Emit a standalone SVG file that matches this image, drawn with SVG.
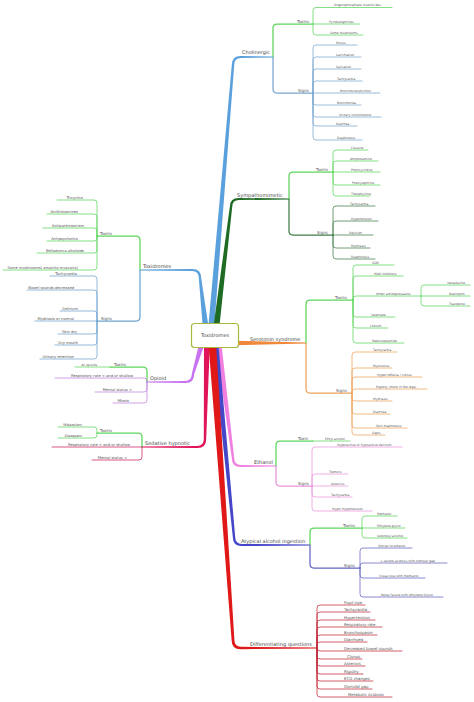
<svg xmlns="http://www.w3.org/2000/svg" width="474" height="702" viewBox="0 0 474 702">
<style>
text{font-family:"DejaVu Sans","Liberation Sans",sans-serif;fill:#555}
.m{font-size:5px;fill:#4a4a4a}
.c{font-size:4px}
.l{font-size:3.1px}
.ll{font-size:3.7px}
.d{font-size:3.9px}
.e{text-anchor:end}
.k path{fill:none;stroke-linecap:round;stroke-linejoin:round}
.w1{stroke-width:1.25}
.w2{stroke-width:0.75}
.g{stroke:#5cd65c}.b{stroke:#7aa6cf}.dg{stroke:#3f7d48}.o{stroke:#eea35c}.p{stroke:#e993dc}.i{stroke:#6464c4}.r{stroke:#c0283a}.lb{stroke:#6fa3d0}.v{stroke:#c080e0}.cr{stroke:#d02060}
</style>
<g id="connectors">
<g id="main-branches">
<path fill="#5aa0dc" d="M209,330 L201.2,278 Q201.2,268.8 192,269 L140,269.4 L140,270.6 L192,271 Q198.8,271.2 198.8,278 L203,330 Z"/>
<path fill="#5aa0dc" d="M208,330 L231.8,65 Q231.8,55.8 241,56 L273,56.4 L273,57.6 L241,58 Q234.2,58.2 234.2,65 L214,330 Z"/>
<path fill="#1e6b24" d="M213,330 L229.8,207 Q229.8,197.8 239,198 L289,198.4 L289,199.6 L239,200 Q232.2,200.2 232.2,207 L219,330 Z"/>
<path fill="#f0883a" d="M236,340.8 L306,342.4 L306,343.6 L236,345.2 Z"/>
<path fill="#f07fe0" d="M215,340 L231.8,458 Q231.8,467.2 241,467 L276,466.6 L276,465.4 L241,465 Q234.2,464.8 234.2,458 L221,340 Z"/>
<path fill="#4646c8" d="M212,340 L232.8,537 Q232.8,546.2 242,546 L310,545.6 L310,544.4 L242,544 Q235.2,543.8 235.2,537 L218,340 Z"/>
<path fill="#c872f0" d="M206,340 L194.2,374 Q194.2,383.2 185,383 L147,382.6 L147,381.4 L185,381 Q191.8,380.8 191.8,374 L200,340 Z"/>
<path fill="#e0145a" d="M210,340 L206.2,439 Q206.2,448.2 197,448 L142,447.6 L142,446.4 L197,446 Q203.8,445.8 203.8,439 L204,340 Z"/>
<path fill="#e01818" d="M208.2,340 L231.6,640 Q231.6,649.4 241,649.2 L316,648.6 L316,647.4 L241,646.8 Q234.4,646.6 234.4,640 L215.8,340 Z"/>
</g>
<g class="k">
<path class="g w1" d="M273,57V28Q273,24 277,24H313"/>
<path class="b w1" d="M273,57V89Q273,93 277,93H313"/>
<path class="g w2" d="M313,24V10.5Q313,7.5 316,7.5H392M313,24H360M313,24V32Q313,35 316,35H363"/>
<path class="b w2" d="M313,93V48Q313,45 316,45H357M313,93V60Q313,57 316,57H361M313,93V72Q313,69 316,69H361M313,93V84Q313,81 316,81H362M313,93H380M313,93V102Q313,105 316,105H361M313,93V114Q313,117 316,117H381M313,93V123Q313,126 316,126H357M313,93V137Q313,140 316,140H362"/>
<path class="g w1" d="M289,199V176Q289,172 293,172H333"/>
<path class="dg w1" d="M289,199V231Q289,235 293,235H333"/>
<path class="g w2" d="M333,172V153Q333,150 336,150H368M333,172V164Q333,161 336,161H378M333,172H380M333,172V182Q333,185 336,185H380M333,172V193Q333,196 336,196H370"/>
<path class="dg w2" d="M333,235V209Q333,206 336,206H375M333,235V224Q333,221 336,221H378M333,235H373M333,235V245Q333,248 336,248H370M333,235V256Q333,259 336,259H375"/>
<path class="g w1" d="M306,343V304Q306,300 310,300H353"/>
<path class="o w1" d="M306,343V389Q306,393 310,393H352"/>
<path class="g w2" d="M353,300V268Q353,265 356,265H394M353,300V279Q353,276 356,276H403M353,300V299Q353,296 356,296H421M353,300V314Q353,317 356,317H395M353,300V325Q353,328 356,328H388M353,300V340Q353,343 356,343H404"/>
<path class="g w2" d="M421,296V288Q421,285 424,285H470M421,296H470M421,296V303Q421,306 424,306H470"/>
<path class="o w2" d="M352,393V355Q352,352 355,352H397M352,393V371Q352,368 355,368H392M352,393V380Q352,377 355,377H422M352,393V392Q352,389 355,389H427M352,393V398Q352,401 355,401H392M352,393V411Q352,414 355,414H390M352,393V425Q352,428 355,428H407M352,393V432Q352,435 355,435H385"/>
<path class="g w1" d="M276,466V445Q276,441 280,441H313"/>
<path class="g w2" d="M313,441H350"/>
<path class="p w1" d="M276,466V482Q276,486 280,486H312"/>
<path class="p w2" d="M312,486V450Q312,447 315,447H402M312,486V477Q312,474 315,474H348M312,486H348M312,486V494Q312,497 315,497H352M312,486V508Q312,511 315,511H372"/>
<path class="g w1" d="M310,545V532Q310,528 314,528H362"/>
<path class="i w1" d="M310,545V564Q310,568 314,568H360"/>
<path class="g w2" d="M362,528V519Q362,516 365,516H397M362,528H405M362,528V535Q362,538 365,538H407"/>
<path class="i w2" d="M360,568V551Q360,548 363,548H412M360,568V566Q360,563 363,563H447M360,568V575Q360,578 363,578H425M360,568V594Q360,597 363,597H443"/>
<path class="r w2" d="M317,648V608Q317,605 320,605H365M317,648V615Q317,612 320,612H370M317,648V623Q317,620 320,620H375M317,648V630Q317,627 320,627H382M317,648V638Q317,635 320,635H377M317,648V645Q317,642 320,642H367M317,648Q317,651 320,651H402M317,648V656Q317,659 320,659H362M317,648V663Q317,666 320,666H365M317,648V671Q317,674 320,674H363M317,648V678Q317,681 320,681H373M317,648V686Q317,689 320,689H372M317,648V694Q317,697 320,697H392"/>
<path class="g w1" d="M140,270V240Q140,236 136,236H97"/>
<path class="lb w1" d="M140,270V317Q140,321 136,321H97"/>
<path class="g w2" d="M97,236V203Q97,200 94,200H57M97,236V217Q97,214 94,214H47M97,236V231Q97,228 94,228H43M97,236V238Q97,241 94,241H47M97,236V250Q97,253 94,253H37M97,236V267Q97,270 94,270H3"/>
<path class="lb w2" d="M97,321V279Q97,276 94,276H50M97,321V293Q97,290 94,290H27M97,321V314Q97,311 94,311H60M97,321H35M97,321V331Q97,334 94,334H58M97,321V342Q97,345 94,345H55M97,321V356Q97,359 94,359H40"/>
<path class="g w1" d="M147,382V371Q147,367 143,367H110"/>
<path class="g w2" d="M110,367H75"/>
<path class="v w2" d="M147,382V381Q147,378 144,378H55M147,382V389Q147,392 144,392H95M147,382V400Q147,403 144,403H113"/>
<path class="g w1" d="M142,447V437Q142,433 138,433H97"/>
<path class="g w2" d="M97,433V430Q97,427 94,427H58M97,433V435Q97,438 94,438H58"/>
<path class="cr w2" d="M142,447H52M142,447V457Q142,460 139,460H92"/>
</g>
</g>

<g id="n-root"><rect x="191.5" y="323.5" width="47" height="24" rx="3" fill="#fff" stroke="#a8b840" stroke-width="1.2"/><text class="m" x="215" y="337.3" text-anchor="middle">Toxidromes</text></g>

<g id="n-cholinergic"><text class="m" x="242" y="54">Cholinergic</text></g>
<g id="n-chol-toxins"><text class="c" x="297" y="22.7">Toxins</text></g>
<g id="n-chol-t1"><text class="l" x="334" y="6.3">Organophosphate insecticides</text></g>
<g id="n-chol-t2"><text class="l" x="329" y="22.8">Pyridostigmines</text></g>
<g id="n-chol-t3"><text class="l" x="330" y="33.8">Some Mushrooms</text></g>
<g id="n-chol-signs"><text class="c" x="298" y="91.7">Signs</text></g>
<g id="n-chol-s1"><text class="l" x="336" y="43.8">Miosis</text></g>
<g id="n-chol-s2"><text class="l" x="336" y="55.8">Lacrimation</text></g>
<g id="n-chol-s3"><text class="l" x="336" y="67.8">Salivation</text></g>
<g id="n-chol-s4"><text class="l" x="337" y="79.8">Tachycardia</text></g>
<g id="n-chol-s5"><text class="l" x="340" y="91.8">Bronchoconstriction</text></g>
<g id="n-chol-s6"><text class="l" x="337" y="103.8">Bronchorrea</text></g>
<g id="n-chol-s7"><text class="l" x="339" y="115.8">Urinary incontinence</text></g>
<g id="n-chol-s8"><text class="l" x="336" y="124.8">Diarrhea</text></g>
<g id="n-chol-s9"><text class="l" x="337" y="138.8">Diaphoresis</text></g>

<g id="n-sympath"><text class="m" x="237" y="196.5">Sympathomimetic</text></g>
<g id="n-sym-toxins"><text class="c" x="316" y="170.7">Toxins</text></g>
<g id="n-sym-t1"><text class="l" x="351" y="148.8">Cocaine</text></g>
<g id="n-sym-t2"><text class="l" x="350" y="159.8">Amphetamine</text></g>
<g id="n-sym-t3"><text class="l" x="351" y="170.8">Phencyclidine</text></g>
<g id="n-sym-t4"><text class="l" x="352" y="183.8">Phenylephrine</text></g>
<g id="n-sym-t5"><text class="l" x="351" y="194.8">Theophylline</text></g>
<g id="n-sym-signs"><text class="c" x="317" y="233.7">Signs</text></g>
<g id="n-sym-s1"><text class="l" x="350" y="204.8">Tachycardia</text></g>
<g id="n-sym-s2"><text class="l" x="351" y="219.8">Hypertension</text></g>
<g id="n-sym-s3"><text class="l" x="349" y="233.8">Delirium</text></g>
<g id="n-sym-s4"><text class="l" x="351" y="246.8">Mydriasis</text></g>
<g id="n-sym-s5"><text class="l" x="351" y="257.8">Diaphoresis</text></g>

<g id="n-serotonin"><text class="m" x="250" y="340.5">Serotonin syndrome</text></g>
<g id="n-ser-toxins"><text class="c" x="335" y="298.7">Toxins</text></g>
<g id="n-ser-t1"><text class="l" x="372" y="263.8">SSRI</text></g>
<g id="n-ser-t2"><text class="l" x="374" y="274.8">MAO inhibitors</text></g>
<g id="n-ser-t3"><text class="l" x="376" y="294.8">Other antidepressants</text></g>
<g id="n-ser-t3a"><text class="l" x="447" y="283.8">Venlafaxine</text></g>
<g id="n-ser-t3b"><text class="l" x="449" y="294.8">Bupropion</text></g>
<g id="n-ser-t3c"><text class="l" x="449" y="304.8">Trazodone</text></g>
<g id="n-ser-t4"><text class="l" x="371" y="315.8">Valproate</text></g>
<g id="n-ser-t5"><text class="l" x="370" y="326.8">Lithium</text></g>
<g id="n-ser-t6"><text class="l" x="372" y="341.8">Metoclopramide</text></g>
<g id="n-ser-signs"><text class="c" x="336" y="391.7">Signs</text></g>
<g id="n-ser-s1"><text class="l" x="373" y="350.8">Tachycardia</text></g>
<g id="n-ser-s2"><text class="l" x="373" y="366.8">Myoclonus</text></g>
<g id="n-ser-s3"><text class="l" x="377" y="375.8">Hyper-reflexia / clonus</text></g>
<g id="n-ser-s4"><text class="l" x="376" y="387.8">Rigidity (more in the legs)</text></g>
<g id="n-ser-s5"><text class="l" x="373" y="399.8">Mydriasis</text></g>
<g id="n-ser-s6"><text class="l" x="373" y="412.8">Diarrhea</text></g>
<g id="n-ser-s7"><text class="l" x="376" y="426.8">Skin diaphoresis</text></g>
<g id="n-ser-s8"><text class="l" x="372" y="433.8">Signs</text></g>

<g id="n-ethanol"><text class="m" x="254" y="463.5">Ethanol</text></g>
<g id="n-eth-toxin"><text class="c" x="298" y="439.7">Toxin</text></g>
<g id="n-eth-t1"><text class="l" x="325" y="439.8">Ethyl alcohol</text></g>
<g id="n-eth-signs"><text class="c" x="298" y="484.7">Signs</text></g>
<g id="n-eth-s1"><text class="l" x="337" y="445.8">Hyperactive or hypoactive delirium</text></g>
<g id="n-eth-s2"><text class="l" x="329" y="472.8">Tremors</text></g>
<g id="n-eth-s3"><text class="l" x="331" y="484.8">Asterixis</text></g>
<g id="n-eth-s4"><text class="l" x="331" y="495.8">Tachycardia</text></g>
<g id="n-eth-s5"><text class="l" x="332" y="509.8">Hypo/ Hypertension</text></g>

<g id="n-atypical"><text class="m" x="241" y="542.5">Atypical alcohol ingestion</text></g>
<g id="n-aty-toxins"><text class="c" x="343" y="526.7">Toxins</text></g>
<g id="n-aty-t1"><text class="l" x="377" y="514.8">Methanol</text></g>
<g id="n-aty-t2"><text class="l" x="377" y="526.8">Ethylene glycol</text></g>
<g id="n-aty-t3"><text class="l" x="377" y="536.8">Isopropyl alcohol</text></g>
<g id="n-aty-signs"><text class="c" x="344" y="566.7">Signs</text></g>
<g id="n-aty-s1"><text class="l" x="378" y="546.8">Similar to ethanol</text></g>
<g id="n-aty-s2"><text class="l" x="380" y="561.8">+ severe acidosis with osmolar gap</text></g>
<g id="n-aty-s3"><text class="l" x="379" y="576.8">Visual loss with methanol</text></g>
<g id="n-aty-s4"><text class="l" x="381" y="595.8">Renal failure with ethylene Glycol</text></g>

<g id="n-diff"><text class="m" x="250" y="645.5">Differentiating questions</text></g>
<g id="n-diff-1"><text class="d" x="344" y="603.6">Pupil size</text></g>
<g id="n-diff-2"><text class="d" x="344" y="610.6">Tachycardia</text></g>
<g id="n-diff-3"><text class="d" x="344" y="618.6">Hypertension</text></g>
<g id="n-diff-4"><text class="d" x="344" y="625.6">Respiratory rate</text></g>
<g id="n-diff-5"><text class="d" x="344" y="633.6">Bronchospasm</text></g>
<g id="n-diff-6"><text class="d" x="344" y="640.6">Diarrhoea</text></g>
<g id="n-diff-7"><text class="d" x="344" y="649.6">Decreased bowel sounds</text></g>
<g id="n-diff-8"><text class="d" x="347" y="657.6">Clonus</text></g>
<g id="n-diff-9"><text class="d" x="344" y="664.6">Asterixis</text></g>
<g id="n-diff-10"><text class="d" x="344" y="672.6">Rigidity</text></g>
<g id="n-diff-11"><text class="d" x="344" y="679.6">ECG changes</text></g>
<g id="n-diff-12"><text class="d" x="344" y="687.6">Osmolal gap</text></g>
<g id="n-diff-13"><text class="d" x="348" y="695.6">Metabolic Acidosis</text></g>

<g id="n-toxidromes"><text class="m" x="143" y="267.5">Toxidromes</text></g>
<g id="n-tox-toxins"><text class="c" x="100" y="234.7">Toxins</text></g>
<g id="n-tox-t1"><text class="ll e" x="83" y="198.7">Tricyclics</text></g>
<g id="n-tox-t2"><text class="ll e" x="78" y="212.7">Antihistamines</text></g>
<g id="n-tox-t3"><text class="ll e" x="84" y="226.7">Antiparkinsonism</text></g>
<g id="n-tox-t4"><text class="ll e" x="78" y="239.7">Antipsychotics</text></g>
<g id="n-tox-t5"><text class="ll e" x="84" y="251.7">Belladonna alkaloids</text></g>
<g id="n-tox-t6"><text class="ll e" x="78" y="268.7">Some mushrooms( amanita muscaria)</text></g>
<g id="n-tox-signs"><text class="c" x="101" y="319.7">Signs</text></g>
<g id="n-tox-s1"><text class="ll e" x="77" y="274.7">Tachycardia</text></g>
<g id="n-tox-s2"><text class="ll e" x="74" y="288.7">Bowel sounds decreased</text></g>
<g id="n-tox-s3"><text class="ll e" x="78" y="309.7">Delirium</text></g>
<g id="n-tox-s4"><text class="ll e" x="74" y="319.7">Mydriasis or normal</text></g>
<g id="n-tox-s5"><text class="ll e" x="77" y="332.7">Skin dry</text></g>
<g id="n-tox-s6"><text class="ll e" x="78" y="343.7">Dry mouth</text></g>
<g id="n-tox-s7"><text class="ll e" x="74" y="357.7">Urinary retention</text></g>

<g id="n-opioid"><text class="m" x="150" y="379.5">Opioid</text></g>
<g id="n-op-toxins"><text class="c" x="114" y="365.7">Toxins</text></g>
<g id="n-op-t1"><text class="l e" x="97" y="365.8">All opioids</text></g>
<g id="n-op-1"><text class="ll e" x="133" y="376.6">Respiratory rate &lt; and or shallow</text></g>
<g id="n-op-2"><text class="ll e" x="132" y="390.6">Mental status &lt;</text></g>
<g id="n-op-3"><text class="ll e" x="129" y="401.6">Miosis</text></g>

<g id="n-sedative"><text class="m" x="145" y="444.5">Sedative hypnotic</text></g>
<g id="n-sed-toxins"><text class="c" x="100" y="431.7">Toxins</text></g>
<g id="n-sed-t1"><text class="e" x="82" y="425.8" style="font-size:3.5px">Midazolam</text></g>
<g id="n-sed-t2"><text class="e" x="82" y="436.8" style="font-size:3.5px">Diazepam</text></g>
<g id="n-sed-1"><text class="ll e" x="130" y="445.6">Respiratory rate &lt; and or shallow</text></g>
<g id="n-sed-2"><text class="ll e" x="127" y="458.6">Mental status &lt;</text></g>
</svg>
